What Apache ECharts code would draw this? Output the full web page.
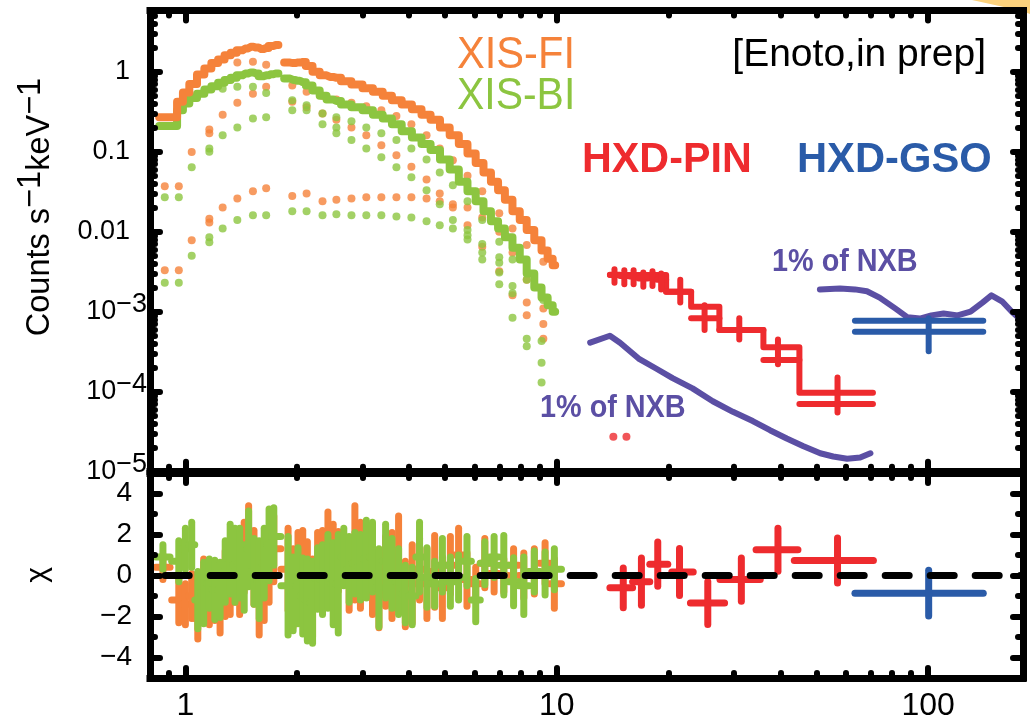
<!DOCTYPE html>
<html><head><meta charset="utf-8">
<script src="https://cdn.jsdelivr.net/npm/echarts@6/dist/echarts.min.js"></script>
<style>html,body{margin:0;padding:0;background:#fff}#c{width:1030px;height:723px}</style>
</head><body><div id="c"></div>
<script>
// ---------------- axes / ticks ----------------
const xMin = 0.803, xMax = 180;
const xMajorTicks = [1, 10, 100];
const xMajorLabels = ['1', '10', '100'];
const xMinorTicks = [0.9, 2, 3, 4, 5, 6, 7, 8, 9, 20, 30, 40, 50, 60, 70, 80, 90];
const yMin = 1e-5, yMax = 5.82;
const yMajorTicks = [1e-5, 1e-4, 1e-3, 0.01, 0.1, 1];
const yMajorLabels = ['10|−5', '10|−4', '10|−3', '0.01', '0.1', '1'];
const yMinorTicks = [2e-5,3e-5,4e-5,5e-5,6e-5,7e-5,8e-5,9e-5,
  2e-4,3e-4,4e-4,5e-4,6e-4,7e-4,8e-4,9e-4,
  2e-3,3e-3,4e-3,5e-3,6e-3,7e-3,8e-3,9e-3,
  0.02,0.03,0.04,0.05,0.06,0.07,0.08,0.09,
  0.2,0.3,0.4,0.5,0.6,0.7,0.8,0.9, 2,3,4,5];
const chiMin = -5, chiMax = 5;
const chiMajorTicks = [-4, -2, 0, 2, 4];
const chiMajorLabels = ['−4', '−2', '0', '2', '4'];
const chiMinorTicks = [-3, -1, 1, 3];

// ---------------- spectra (counts s^-1 keV^-1) ----------------
const xisE = [0.85,0.93,0.97,1.00,1.05,1.10,1.15,1.20,1.25,1.30,1.35,1.40,1.45,1.50,1.55,1.60,1.65,1.70,1.75,1.81,
  1.88,1.95,2.00,2.07,2.15,2.25,2.35,2.45,2.55,2.70,2.90,3.10,3.30,3.50,3.70,3.95,4.20,4.45,4.70,5.00,
  5.30,5.60,5.90,6.20,6.50,6.80,7.10,7.40,7.80,8.10,8.50,8.90,9.30,9.60,9.90];
const fiV = [0.27,0.27,0.42,0.55,0.70,0.92,1.10,1.28,1.42,1.60,1.72,1.85,1.95,2.05,2.00,1.92,1.98,2.10,2.15,'-',
  1.30,1.28,1.30,1.32,1.18,1.00,0.90,0.86,0.84,0.76,0.69,0.62,0.56,0.50,0.44,0.39,0.34,0.29,0.25,0.20,
  0.16,0.125,0.095,0.072,0.055,0.042,0.033,0.025,0.018,0.014,0.0105,0.0078,0.0058,0.0046,0.0038];
const biV = [0.21,0.21,0.33,0.40,0.47,0.53,0.60,0.66,0.73,0.79,0.84,0.90,0.95,0.98,0.95,0.88,0.90,0.93,0.95,'-',
  0.82,0.79,0.77,0.74,0.67,0.58,0.50,0.45,0.43,0.39,0.36,0.33,0.29,0.26,0.22,0.18,0.15,0.125,0.105,0.080,
  0.060,0.042,0.032,0.024,0.018,0.0135,0.011,0.0085,0.0063,0.0045,0.0030,0.0020,0.0015,0.0012,0.0010];

// model components (dotted)
const fiDotA = [[1.38,1.3],[1.52,1.33],[1.65,1.22],[1.94,0.67],[2.12,0.56],[2.34,0.5],[2.55,0.45],[2.8,0.41],[3.07,0.37],[3.37,0.33],[3.7,0.28],[4.06,0.22],[4.46,0.16],[4.84,0.11],[5.25,0.078],[5.75,0.05],[6.3,0.032],[7.0,0.017],[7.6,0.011],[8.3,0.0068],[9.2,0.0042]];
const fiDotB = [[0.88,0.037],[0.96,0.037],[1.04,0.099],[1.16,0.17],[1.16,0.19],[1.26,0.29],[1.38,0.41],[1.52,0.53],[1.65,0.65],[1.94,0.42],[2.12,0.36],[2.34,0.3],[2.55,0.25],[2.8,0.2],[3.07,0.16],[3.37,0.12],[3.7,0.09],[4.06,0.065],[4.46,0.045],[4.84,0.03],[5.25,0.02],[5.75,0.012],[6.3,0.0065],[7.0,0.0032],[7.6,0.0016],[8.3,0.0009],[9.2,0.00046]];
const fiDotC = [[0.88,0.0033],[0.96,0.0033],[1.04,0.0078],[1.16,0.013],[1.16,0.0145],[1.26,0.02],[1.38,0.026],[1.52,0.032],[1.65,0.035],[1.94,0.028],[2.12,0.03],[2.34,0.024],[2.55,0.025],[2.8,0.026],[3.07,0.027],[3.37,0.027],[3.7,0.027],[4.06,0.027],[4.46,0.026],[4.84,0.024],[5.25,0.022],[5.75,0.02],[6.3,0.015],[7.0,0.01],[7.6,0.0055],[8.3,0.0025],[8.3,0.0013],[9.2,0.0011],[9.2,0.0007]];
const biDotA = [[1.26,0.61],[1.38,0.65],[1.52,0.65],[1.65,0.54],[1.94,0.44],[2.12,0.38],[2.34,0.3],[2.55,0.27],[2.8,0.24],[3.07,0.2],[3.37,0.17],[3.7,0.14],[4.06,0.11],[4.46,0.08],[4.84,0.055],[5.25,0.038],[5.75,0.024],[6.3,0.014],[7.0,0.0075],[7.6,0.0045],[8.3,0.0025],[9.2,0.0014]];
const biDotB = [[0.88,0.027],[0.96,0.027],[1.04,0.064],[1.16,0.1],[1.16,0.11],[1.26,0.16],[1.38,0.2],[1.52,0.26],[1.65,0.27],[1.94,0.33],[2.12,0.33],[2.34,0.22],[2.55,0.2],[2.55,0.17],[2.8,0.14],[3.07,0.11],[3.37,0.085],[3.7,0.064],[4.06,0.048],[4.46,0.033],[4.84,0.022],[5.25,0.014],[5.75,0.008],[6.3,0.0045],[7.0,0.0022],[7.6,0.00084],[8.3,0.00046],[8.3,0.00037],[9.1,0.00043],[9.1,0.00023],[9.1,0.00013]];
const biDotC = [[0.88,0.0023],[0.96,0.0023],[1.04,0.005],[1.16,0.0074],[1.16,0.0085],[1.26,0.011],[1.38,0.014],[1.52,0.016],[1.65,0.016],[1.94,0.018],[2.12,0.018],[2.34,0.016],[2.55,0.0165],[2.8,0.016],[3.07,0.016],[3.37,0.016],[3.7,0.0155],[4.06,0.015],[4.46,0.0135],[4.84,0.012],[5.25,0.011],[5.75,0.0105],[5.75,0.009],[6.3,0.007],[6.3,0.0055],[7.0,0.0048],[7.0,0.0041],[7.0,0.0031],[7.6,0.0021],[7.6,0.0017]];

// HXD-PIN
const pinE   = [14.3,15.2,16.1,17.1,18.1,19.1,21.5,25.0,31.0,39.4,57.0];
const pinElo = [13.9,14.8,15.7,16.6,17.6,18.6,19.7,23.0,27.4,36.0,45.0];
const pinEhi = [14.8,15.7,16.6,17.6,18.6,19.7,23.0,27.4,36.0,45.0,71.0];
const pinV   = [2.9e-3,2.8e-3,2.75e-3,2.6e-3,2.7e-3,2.5e-3,1.78e-3,8.3e-4,5.9e-4,2.49e-4,7.0e-5];
const pinVlo = [2.3e-3,2.2e-3,2.2e-3,2.05e-3,2.1e-3,1.9e-3,1.3e-3,5.9e-4,4.5e-4,2.2e-4,5.5e-5];
const pinVhi = [3.4e-3,3.3e-3,3.3e-3,3.1e-3,3.2e-3,3.0e-3,2.5e-3,1.2e-3,8.3e-4,4.5e-4,1.5e-4];
const pinModelE = [13.9,19.7,23.0,27.4,36.0,45.0,71.0];
const pinModelV = [2.87e-3,1.78e-3,1.155e-3,5.9e-4,3.59e-4,9.7e-5,9.7e-5];
const pinDots = [[14.2,2.74e-5],[15.4,2.74e-5]];
const pinNxbE = [12.3,13.9,14.8,16.7,18.5,20.5,23.2,26.3,29.8,33.7,37.5,41.6,46.0,51.2,55.5,60.5,65.6,69.9];
const pinNxbV = [4.1e-4,5.0e-4,4.1e-4,2.55e-4,1.95e-4,1.48e-4,1.1e-4,7.6e-5,5.6e-5,4.3e-5,3.3e-5,2.6e-5,2.1e-5,1.7e-5,1.55e-5,1.45e-5,1.5e-5,1.7e-5];

// HXD-GSO
const gsoE = [100.3], gsoElo = [63.5], gsoEhi = [140.7];
const gsoV = [5.6e-4], gsoVlo = [3.2e-4], gsoVhi = [8.3e-4];
const gsoModelE = [63.5, 140.7];
const gsoModelV = [7.7e-4, 7.7e-4];
const gsoNxbE = [51.1,57.9,63.5,68.4,74,81.5,88,95,102,110,120,130,140,148,158,168,180];
const gsoNxbV = [1.9e-3,1.95e-3,1.9e-3,1.8e-3,1.5e-3,1.1e-3,8.5e-4,8.2e-4,9.0e-4,9.5e-4,9.0e-4,1.0e-3,1.3e-3,1.6e-3,1.35e-3,1.0e-3,7.5e-4];

// ---------------- residuals (chi) ----------------
const resE = [0.87,0.96,1.00,1.04,1.08,1.12,1.16,1.20,1.24,1.28,1.32,1.36,1.40,1.44,1.48,1.53,1.58,1.63,1.68,1.73,
  1.89,1.95,2.01,2.07,2.13,2.20,2.27,2.34,2.42,2.50,2.58,2.67,2.76,2.86,2.96,3.07,3.19,3.32,3.46,3.60,
  3.75,3.91,4.08,4.27,4.47,4.69,4.92,5.17,5.44,5.73,6.05,6.40,6.78,7.20,7.65,8.15,8.70,9.30,9.85];
const fiChi = [0.4,-1.2,-1.4,-1.0,-2.1,-0.7,-1.0,-0.8,-1.3,-0.4,-0.6,0.3,-0.2,0.9,1.8,0.4,-1.2,-0.3,0.4,1.3,
  0.3,-0.6,-0.1,0.1,-0.2,-1.1,0.3,0.5,1.5,0.9,0.7,0.8,-0.2,1.1,0.5,0.4,-0.3,-0.7,0.2,0.0,
  0.6,-0.9,-0.4,0.3,-0.4,0.2,-0.6,0.5,1.0,-0.2,-0.4,0.6,0.1,0.0,0.5,0.0,0.2,0.6,-0.4];
const fiErr = [0.6,1.1,1.0,1.1,1.0,1.5,1.4,1.4,1.5,1.6,1.3,1.6,1.7,1.7,1.6,1.8,1.7,1.9,1.7,1.6,
  2.0,1.9,2.2,2.1,1.85,1.9,1.8,1.7,1.6,1.6,1.45,1.2,1.5,2.3,2.1,1.3,1.6,1.85,1.7,2.1,
  2.3,1.6,1.9,1.5,1.7,1.75,1.5,1.4,1.3,1.3,0.8,1.2,0.9,0.8,0.8,1.1,1.1,1.0,1.2];
const biChi = [0.9,0.7,1.3,1.5,-1.2,-0.85,-0.4,-0.7,-0.7,0.2,0.8,0.5,0.6,-0.1,1.3,0.2,-0.2,0.6,1.5,1.9,
  -0.5,-0.9,-0.5,-1.0,-1.2,-1.3,-0.15,-0.2,0.2,-0.4,-0.4,0.9,0.3,0.6,0.4,0.8,0.9,-0.6,0.7,0.1,
  -0.3,-0.9,-1.0,0.9,-0.1,-0.4,0.5,-0.3,-0.1,0.7,-1.2,0.6,0.9,0.5,-0.3,-0.5,0.2,0.1,0.3];
const biErr = [0.6,1.0,1.0,1.1,1.4,1.5,1.2,1.45,1.35,1.5,1.7,1.8,1.7,1.6,1.85,1.6,1.9,1.7,1.75,1.4,
  2.4,1.8,1.85,1.85,2.0,2.0,1.5,1.7,1.8,2.0,2.4,1.4,1.6,1.5,1.6,1.9,1.7,1.9,1.8,1.7,
  1.6,1.4,1.4,1.7,1.45,1.1,1.3,1.2,1.1,1.2,1.05,1.05,1.0,1.45,1.17,1.4,1.0,1.05,1.0];
const pinResE   = [15.1,16.9,18.7,21.4,25.5,31.4,39.4,57.0];
const pinResElo = [13.9,16.0,17.8,20.4,22.9,27.5,34.4,43.6];
const pinResEhi = [16.0,17.8,19.9,23.3,28.3,35.3,44.6,71.2];
const pinResChi = [-0.6,-0.3,0.55,0.17,-1.34,-0.2,1.26,0.73];
const pinResErr = [0.97,1.15,1.08,1.15,1.05,1.05,1.05,1.1];
const gsoResChi = [-0.86], gsoResErr = [1.12];

// ---------------- styling ----------------
const FONT = "'Liberation Sans', Arial, Helvetica, sans-serif";
const C_FI = '#f5823a', C_BI = '#8cc540', C_PIN = '#ee2b2e', C_GSO = '#2a5ba8', C_NXB = '#5b4fa4';

function logKey(v) { return Math.round(Math.log10(v)); }

function mkAxis(type, gridIndex, position, min, max, ticks, len, withLine, label) {
  const a = {
    type, gridIndex, position, min, max,
    axisLine: {show: withLine, onZero: false, lineStyle: {color: '#000', width: 7, cap: 'square'}},
    axisTick: {show: true, inside: true, length: len, customValues: ticks,
      lineStyle: {color: '#000', width: 6, cap: 'round'}},
    axisLabel: label || {show: false},
    splitLine: {show: false}, minorTick: {show: false}, minorSplitLine: {show: false},
    axisPointer: {show: false}, silent: true, z: 5
  };
  if (type === 'log') a.logBase = 10;
  return a;
}

const xLabel = {
  show: true, customValues: xMajorTicks, showMinLabel: true, showMaxLabel: true,
  formatter: v => xMajorLabels[xMajorTicks.findIndex(t => logKey(t) === logKey(v))],
  fontSize: 32, fontFamily: FONT, color: '#000', margin: 12
};
const yLabel = {
  show: true, customValues: yMajorTicks, showMinLabel: true, showMaxLabel: true, margin: 3,
  formatter: v => {
    const s = yMajorLabels[yMajorTicks.findIndex(t => logKey(t) === logKey(v))];
    if (s.indexOf('|') >= 0) { const p = s.split('|'); return '{n|' + p[0] + '}{s|' + p[1] + '}'; }
    return '{p|' + s + '}';
  },
  rich: {
    n: {fontSize: 27, fontFamily: FONT, color: '#000', lineHeight: 30},
    s: {fontSize: 27, fontFamily: FONT, color: '#000', lineHeight: 30, padding: [0, 0, 14, 0]},
    p: {fontSize: 27, fontFamily: FONT, color: '#000', lineHeight: 30, padding: [0, 17, 0, 0]}
  }
};
const chiLabel = {
  show: true, customValues: chiMajorTicks, showMinLabel: true, showMaxLabel: true, margin: 18,
  formatter: v => chiMajorLabels[chiMajorTicks.indexOf(Math.round(v))],
  fontSize: 28, fontFamily: FONT, color: '#000'
};

const xAxes = [
  mkAxis('log', 0, 'bottom', xMin, xMax, xMajorTicks, 10, true),
  mkAxis('log', 0, 'bottom', xMin, xMax, xMinorTicks, 5, false),
  mkAxis('log', 0, 'top', xMin, xMax, xMajorTicks, 10, true),
  mkAxis('log', 0, 'top', xMin, xMax, xMinorTicks, 5, false),
  mkAxis('log', 1, 'bottom', xMin, xMax, xMajorTicks, 10, true, xLabel),
  mkAxis('log', 1, 'bottom', xMin, xMax, xMinorTicks, 5, false),
  mkAxis('log', 1, 'top', xMin, xMax, xMajorTicks, 10, true),
  mkAxis('log', 1, 'top', xMin, xMax, xMinorTicks, 5, false)
];
const yAxes = [
  mkAxis('log', 0, 'left', yMin, yMax, yMajorTicks, 10, true, yLabel),
  mkAxis('log', 0, 'left', yMin, yMax, yMinorTicks, 5, false),
  mkAxis('log', 0, 'right', yMin, yMax, yMajorTicks, 10, true),
  mkAxis('log', 0, 'right', yMin, yMax, yMinorTicks, 5, false),
  mkAxis('value', 1, 'left', chiMin, chiMax, chiMajorTicks, 10, true, chiLabel),
  mkAxis('value', 1, 'left', chiMin, chiMax, chiMinorTicks, 5, false),
  mkAxis('value', 1, 'right', chiMin, chiMax, chiMajorTicks, 10, true),
  mkAxis('value', 1, 'right', chiMin, chiMax, chiMinorTicks, 5, false)
];

// ---------------- series builders ----------------
function dotSeries(data, color) {
  return {type: 'scatter', xAxisIndex: 0, yAxisIndex: 0, data, symbol: 'circle', symbolSize: 8,
    itemStyle: {color}, silent: true, z: 2};
}
function lineSeries(xs, ys, color, width, step, xi, yi, extra) {
  return Object.assign({type: 'line', xAxisIndex: xi, yAxisIndex: yi, data: xs.map((x, i) => [x, ys[i]]),
    step: step, showSymbol: false, connectNulls: false, silent: true, z: 3,
    lineStyle: {color, width, join: 'round', cap: 'round'}}, extra || {});
}
function crossSeries(rows, color, width, xi, yi, z) {
  return {type: 'custom', xAxisIndex: xi, yAxisIndex: yi, clip: true, silent: true, z: z || 4,
    encode: {x: [0, 1, 2], y: [3, 4, 5]}, data: rows,
    renderItem: (params, api) => {
      const pc = api.coord([api.value(0), api.value(3)]);
      const pl = api.coord([api.value(1), api.value(3)]);
      const ph = api.coord([api.value(2), api.value(3)]);
      const pt = api.coord([api.value(0), api.value(5)]);
      const pb = api.coord([api.value(0), api.value(4)]);
      const st = {stroke: color, lineWidth: width, lineCap: 'round'};
      return {type: 'group', children: [
        {type: 'line', shape: {x1: pl[0], y1: pc[1], x2: ph[0], y2: pc[1]}, style: st},
        {type: 'line', shape: {x1: pc[0], y1: pt[1], x2: pc[0], y2: pb[1]}, style: st}
      ]};
    }};
}
function resRows(E, chi, err) {
  return E.map((e, i) => {
    const lo = i > 0 ? Math.max(Math.sqrt(E[i - 1] * e), e / 1.045) : e / 1.045;
    const hi = i < E.length - 1 ? Math.min(Math.sqrt(E[i + 1] * e), e * 1.045) : e * 1.045;
    return [e, lo, hi, chi[i], chi[i] - err[i], chi[i] + err[i]];
  });
}

const pinRows = pinE.map((e, i) => [e, pinElo[i], pinEhi[i], pinV[i], pinVlo[i], pinVhi[i]]);
const gsoRows = gsoE.map((e, i) => [e, gsoElo[i], gsoEhi[i], gsoV[i], gsoVlo[i], gsoVhi[i]]);
const pinResRows = pinResE.map((e, i) => [e, pinResElo[i], pinResEhi[i], pinResChi[i], pinResChi[i] - pinResErr[i], pinResChi[i] + pinResErr[i]]);
const gsoResRows = gsoE.map((e, i) => [e, gsoElo[i], gsoEhi[i], gsoResChi[i], gsoResChi[i] - gsoResErr[i], gsoResChi[i] + gsoResErr[i]]);

const series = [
  dotSeries(fiDotA, C_FI), dotSeries(fiDotB, C_FI), dotSeries(fiDotC, C_FI),
  dotSeries(biDotA, C_BI), dotSeries(biDotB, C_BI), dotSeries(biDotC, C_BI),
  lineSeries(xisE, biV, C_BI, 8, 'middle', 0, 0),
  lineSeries(xisE, fiV, C_FI, 8, 'middle', 0, 0),
  lineSeries(pinNxbE, pinNxbV, C_NXB, 6, false, 0, 0),
  lineSeries(gsoNxbE, gsoNxbV, C_NXB, 6, false, 0, 0),
  lineSeries(pinModelE, pinModelV, C_PIN, 6, 'end', 0, 0),
  crossSeries(pinRows, C_PIN, 6, 0, 0),
  dotSeries(pinDots, C_PIN),
  lineSeries(gsoModelE, gsoModelV, C_GSO, 6, false, 0, 0),
  crossSeries(gsoRows, C_GSO, 6, 0, 0),
  // residual panel
  crossSeries(resRows(resE, fiChi, fiErr), C_FI, 7, 4, 4, 3),
  crossSeries(resRows(resE, biChi, biErr), C_BI, 7, 4, 4, 4),
  crossSeries(pinResRows, C_PIN, 7, 4, 4, 4),
  crossSeries(gsoResRows, C_GSO, 7, 4, 4, 4),
  lineSeries([xMin, xMax], [0, 0], '#000', 7, false, 4, 4,
    {z: 6, lineStyle: {color: '#000', width: 7, type: [24, 21], dashOffset: 29.8, cap: 'round'}})
];

function txt(text, x, y, size, weight, color, sx, align, rot) {
  return {type: 'text', x, y, scaleX: sx, rotation: rot || 0, z: 100, silent: true,
    style: {text, fill: color, font: weight + ' ' + size + 'px ' + FONT, align, verticalAlign: 'middle'}};
}

const chart = echarts.init(document.getElementById('c'), null, {renderer: 'canvas'});
chart.setOption({
  animation: false,
  backgroundColor: '#fff',
  grid: [
    {left: 150, right: 7, top: 10.5, height: 461.2},
    {left: 150, right: 7, top: 473, height: 205}
  ],
  xAxis: xAxes,
  yAxis: yAxes,
  series,
  graphic: [
    {type: 'polygon', shape: {points: [[972, 0], [1030, 0], [1030, 14], [1022, 11]]}, style: {fill: '#fcd27d'}, z: -1, silent: true},
    txt('XIS-FI', 457, 56, 44, 'normal', C_FI, 0.946, 'left'),
    txt('XIS-BI', 457, 97, 44, 'normal', C_BI, 0.93, 'left'),
    txt('HXD-PIN', 582, 160, 43, 'bold', C_PIN, 0.96, 'left'),
    txt('HXD-GSO', 797, 160, 43, 'bold', C_GSO, 0.97, 'left'),
    txt('[Enoto,in prep]', 986, 55, 39, 'normal', '#000', 1, 'right'),
    txt('1% of NXB', 540, 408, 32, 'bold', C_NXB, 0.9, 'left'),
    txt('1% of NXB', 772, 262, 32, 'bold', C_NXB, 0.9, 'left'),
    {type: 'text', x: 40, y: 207, rotation: Math.PI / 2, z: 100, silent: true,
      style: {text: '{b|Counts s}{s|−1}{b|keV}{s|−1}', align: 'center', verticalAlign: 'middle',
        rich: {b: {fontSize: 32.5, fontFamily: FONT, color: '#000', lineHeight: 38},
               s: {fontSize: 32.5, fontFamily: FONT, color: '#000', lineHeight: 38, padding: [0, 0, 18, 0]}}}},
    txt('χ', 38, 575, 30, 'normal', '#000', 1, 'center', Math.PI / 2)
  ]
});
</script></body></html>
